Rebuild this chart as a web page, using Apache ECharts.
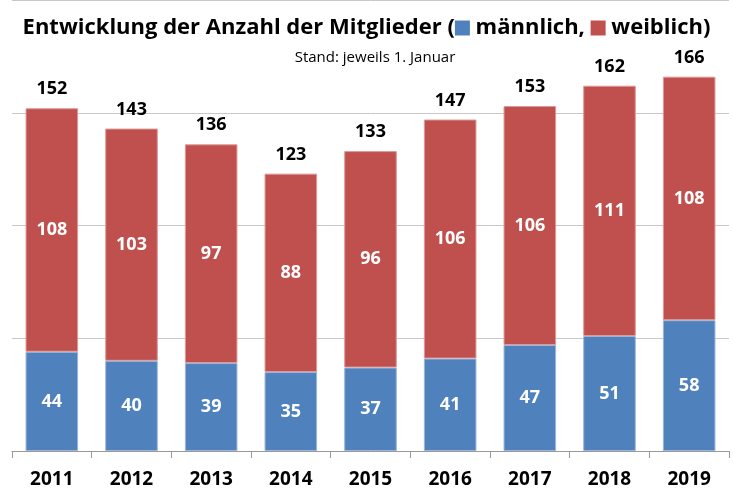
<!DOCTYPE html>
<html>
<head>
<meta charset="utf-8">
<script src="https://cdn.jsdelivr.net/npm/echarts@6/dist/echarts.min.js"></script>
<style>
  html, body { margin: 0; padding: 0; background: #fff; }
  #chart { width: 733px; height: 492px; }
</style>
</head>
<body>
<div id="chart"></div>
<script>
// Jahre und Mitglieder (Stand 1. Januar)
const YEARS = ['2011', '2012', '2013', '2014', '2015', '2016', '2017', '2018', '2019']
const MALE = [44, 40, 39, 35, 37, 41, 47, 51, 58]
const FEMALE = [108, 103, 97, 88, 96, 106, 106, 111, 108]
const TOTAL = [152, 143, 136, 123, 133, 147, 153, 162, 166]

const BLUE = '#4F81BD'
const RED = '#C0504D'
const FONT = "'Open Sans', 'Liberation Sans', sans-serif"

const innerLabel = {
  show: true,
  position: 'inside',
  color: '#fff',
  fontFamily: FONT,
  fontWeight: 'bold',
  fontSize: 18
}

const myChart = echarts.init(document.getElementById('chart'))

myChart.setOption({
  animation: false,
  title: [{
    text: 'Entwicklung der Anzahl der Mitglieder ({m|} männlich, {w|} weiblich)',
    left: 'center',
    top: 12,
    textStyle: {
      fontFamily: FONT,
      fontWeight: 'bold',
      fontSize: 22,
      color: '#000',
      rich: {
        m: { backgroundColor: BLUE, width: 15, height: 15 },
        w: { backgroundColor: RED, width: 15, height: 15 }
      }
    }
  }, {
    text: 'Stand: jeweils 1. Januar',
    left: 370,
    top: 45,
    textAlign: 'center',
    textStyle: {
      fontFamily: FONT,
      fontWeight: 'normal',
      fontSize: 15,
      color: '#000'
    }
  }],
  grid: {
    left: 12,
    right: 4,
    top: -2,
    bottom: 41
  },
  xAxis: {
    type: 'category',
    data: YEARS,
    axisLine: { lineStyle: { color: '#999', width: 1 } },
    axisTick: { show: true, length: 7, lineStyle: { color: '#999' } },
    axisLabel: {
      color: '#000',
      fontFamily: FONT,
      fontWeight: 'bold',
      fontSize: 19,
      margin: 19
    }
  },
  yAxis: {
    type: 'value',
    min: 0,
    max: 200,
    interval: 50,
    axisLine: { show: false },
    axisTick: { show: false },
    axisLabel: { show: false },
    splitLine: { lineStyle: { color: '#c8c8c8', width: 1 } }
  },
  series: [{
    type: 'bar',
    name: 'männlich',
    stack: 'all',
    barWidth: '66%',
    data: MALE,
    itemStyle: { color: BLUE, borderColor: '#9db5d8', borderWidth: 1 },
    label: innerLabel
  }, {
    type: 'bar',
    name: 'weiblich',
    stack: 'all',
    data: FEMALE,
    itemStyle: { color: RED, borderColor: '#dc9a98', borderWidth: 1 },
    label: innerLabel
  }, {
    // Summen über den Balken
    type: 'bar',
    name: 'gesamt',
    barGap: '-100%',
    barWidth: '66%',
    data: TOTAL,
    z: 1,
    itemStyle: { color: 'transparent' },
    label: {
      show: true,
      position: 'top',
      distance: 10,
      color: '#000',
      fontFamily: FONT,
      fontWeight: 'bold',
      fontSize: 18
    }
  }]
})
</script>
</body>
</html>
